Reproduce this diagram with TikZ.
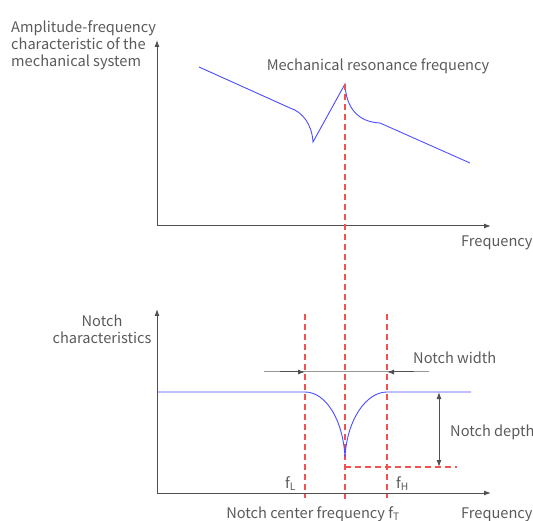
\documentclass[tikz,border=0pt]{standalone}
\usepackage{fontspec}
\setmainfont{Noto Sans CJK SC}
\usetikzlibrary{arrows.meta}
\definecolor{axisgray}{RGB}{80,80,80}
\definecolor{textgray}{RGB}{90,90,90}
\definecolor{bargray}{RGB}{150,150,150}
\definecolor{curveblue}{RGB}{75,75,255}
\definecolor{guidered}{RGB}{245,80,80}

\begin{document}
\begin{tikzpicture}[x=1pt,y=-1pt,
  axis/.style={draw=axisgray,line width=1pt,-{Latex[length=7pt,width=5pt]}},
  curve/.style={draw=curveblue,line width=0.9pt},
  guide/.style={draw=guidered,line width=1.1pt,dash pattern=on 6pt off 4pt},
  lbl/.style={text=textgray,font=\fontsize{14.6}{17}\selectfont,inner sep=0pt},
  tip/.style={draw=axisgray,line width=1pt,-{Latex[length=7pt,width=5pt]}},
  both/.style={draw=axisgray,line width=1pt,{Latex[length=7pt,width=5pt]}-{Latex[length=7pt,width=5pt]}}]
\useasboundingbox (0,0) rectangle (533,521);

% upper plot: mechanical system
\coordinate (o1) at (157,226);
\coordinate (y1) at (157,40);
\coordinate (x1) at (491,226);
\draw[axis] (o1) -- (y1);
\draw[axis] (o1) -- (x1);
\coordinate (peak) at (345,84);
\draw[curve] (199,67) -- (290,108) .. controls (303,112) and (312,125) .. (313,142)
  -- (peak) .. controls (346,108) and (358,122) .. (380,123) -- (470,163);
\node[lbl,anchor=north west,align=left] (amp) at (11,20) {Amplitude-frequency\\characteristic of the\\mechanical system};
\node[lbl,anchor=base] (res) at (378,71) {Mechanical resonance frequency};
\node[lbl,anchor=base west] (freq1) at (461,247) {Frequency};

% lower plot: notch filter
\coordinate (o2) at (157,493);
\coordinate (y2) at (157,309);
\coordinate (x2) at (491,493);
\draw[axis] (o2) -- (y2);
\draw[axis] (o2) -- (x2);
\coordinate (fT) at (345,499);
\coordinate (fLtop) at (305,314);
\coordinate (fLbot) at (305,498);
\coordinate (fHtop) at (387,314);
\coordinate (fHbot) at (387,498);
\draw[guide] (peak) -- (fT);
\draw[guide] (fLtop) -- (fLbot);
\draw[guide] (fHtop) -- (fHbot);
\coordinate (bottom) at (345,457);
\draw[curve] (157,392) -- (305,392) .. controls (326,392) and (343,420) .. (bottom)
  .. controls (347,420) and (366,392) .. (387,392) -- (471,392);

% notch width
\coordinate (wl) at (264,372);
\coordinate (wr) at (429,372);
\draw[bargray,line width=1pt] (wl) -- (wr);
\draw[tip] (280,372) -- (305,372);
\draw[tip] (414,372) -- (387,372);
\node[lbl,anchor=base west] (width) at (413,363) {Notch width};

% notch depth
\coordinate (dtop) at (439,392);
\coordinate (dbot) at (439,467);
\draw[both] (dtop) -- (dbot);
\draw[guide] (bottom |- dbot) -- (457,467);
\node[lbl,anchor=base west] (depth) at (450,436) {Notch depth};

\node[lbl,anchor=north,align=center] (notch) at (102,315) {Notch\\characteristics};
\node[lbl,anchor=base west] (fL) at (285,488) {f\textsubscript{L}};
\node[lbl,anchor=base west] (fH) at (396,488) {f\textsubscript{H}};
\node[lbl,anchor=base] (ctr) at (313,518) {Notch center frequency f\textsubscript{T}};
\node[lbl,anchor=base west] (freq2) at (461,518) {Frequency};
\end{tikzpicture}
\end{document}
